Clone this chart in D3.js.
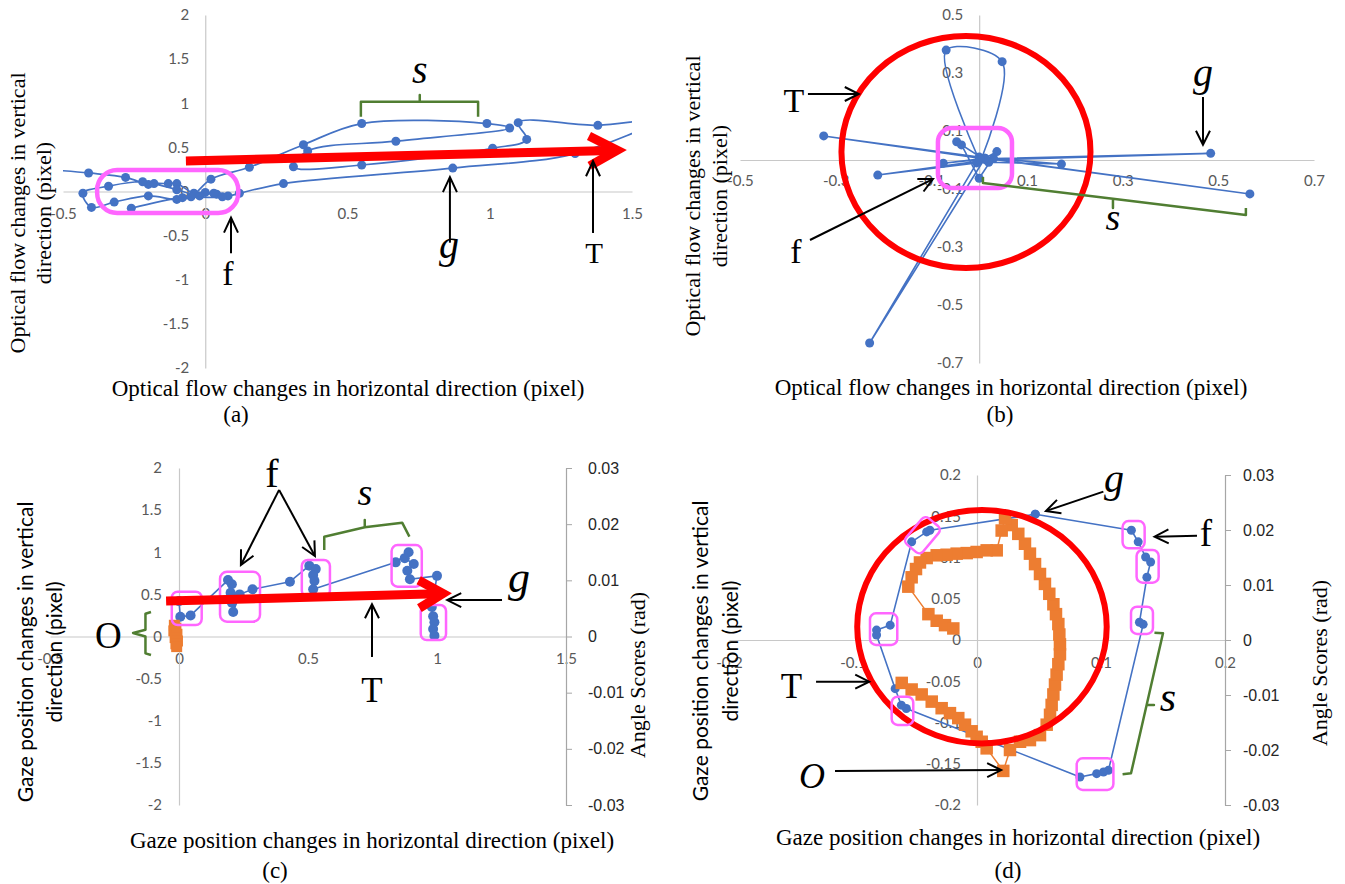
<!DOCTYPE html>
<html>
<head>
<meta charset="utf-8">
<script src="https://cdn.jsdelivr.net/npm/d3@7"></script>
<style>
  body { margin: 0; background: #fff; }
  svg { display: block; }
</style>
</head>
<body>
<svg id="fig" width="1345" height="884"></svg>
<script>
/* ---- tick labels ---- */
const aTicksX = [-0.5, 0, 0.5, 1, 1.5];
const aTicksY = [-2, -1.5, -1, -0.5, 0, 0.5, 1, 1.5, 2];
const bTicksX = [-0.5, -0.3, -0.1, 0.1, 0.3, 0.5, 0.7];
const bTicksY = [-0.7, -0.5, -0.3, -0.1, 0.1, 0.3, 0.5];
const cTicksX = [-0.5, 0, 0.5, 1, 1.5];
const cTicksY = [-2, -1.5, -1, -0.5, 0, 0.5, 1, 1.5, 2];
const cTicksAngle = [-0.03, -0.02, -0.01, 0, 0.01, 0.02, 0.03];
const dTicksX = [-0.2, -0.1, 0, 0.1, 0.2];
const dTicksY = [-0.2, -0.15, -0.1, -0.05, 0, 0.05, 0.1, 0.15, 0.2];
const dTicksAngle = [-0.03, -0.02, -0.01, 0, 0.01, 0.02, 0.03];

/* ---- series values ---- */
// (a) optical flow, smoothed trajectory
const flowA_x = [-0.56,-0.41,-0.28,-0.20,-0.18,-0.13,-0.10,-0.04,0.00,0.04,0.08,0.12,0.275,0.87,1.30,1.58,1.38,1.10,1.13,1.01,0.55,0.31,0.36,0.67,1.07,0.99,0.55,0.345,0.155,0.02,-0.05,-0.10,-0.20,-0.32,-0.40,-0.43,-0.34,-0.22,-0.10,-0.02,0.03,0.06,-0.08,-0.26];
const flowA_y = [0.25,0.21,0.16,0.08,0.09,0.09,0.09,-0.02,-0.01,-0.03,-0.05,-0.02,0.09,0.265,0.43,0.80,0.75,0.78,0.59,0.49,0.30,0.28,0.46,0.57,0.72,0.77,0.77,0.53,0.275,0.14,-0.06,-0.09,-0.05,-0.12,-0.18,-0.02,0.06,0.11,0.02,-0.05,-0.02,-0.06,-0.07,-0.19];

// (b) optical flow
const flowB_x = [0.00,-0.069,0.048,0.005,-0.325,0.00,0.566,0.012,-0.229,-0.005,-0.212,0.015,0.484,0.03,0.172,0.02,-0.047,-0.037,0.00,0.037,0.012,-0.075,0.002];
const flowB_y = [0.00,0.379,0.339,0.005,0.083,0.010,-0.117,0.006,-0.631,-0.010,-0.052,0.000,0.023,0.005,-0.014,-0.008,0.063,0.052,-0.063,0.029,0.006,-0.011,0.002];

// (c) gaze position + angle scores
const gazeC_x = [0.00,0.005,0.045,0.19,0.205,0.20,0.205,0.21,0.235,0.285,0.43,0.505,0.53,0.52,0.525,0.52,0.84,0.89,0.875,0.91,0.885,0.895,1.00,0.98,0.985,0.99,0.985,0.99];
const gazeC_y = [0.42,0.235,0.25,0.67,0.62,0.52,0.40,0.29,0.50,0.56,0.65,0.84,0.80,0.73,0.66,0.56,0.88,1.00,0.93,0.86,0.78,0.68,0.72,0.35,0.24,0.17,0.09,0.01];
const angleC_x = [-0.018,-0.012,-0.020,-0.008,-0.015,-0.006,-0.012,-0.009];
const angleC_y = [0.0020,0.0015,0.0010,0.0004,-0.0002,-0.0008,-0.0013,-0.0018];

// (d) gaze position + angle scores
const gazeD_x = [0.047,0.1245,0.13,0.136,0.14,0.137,0.131,0.134,0.106,0.102,0.0965,0.083,-0.057,-0.061,-0.066,-0.081,-0.081,-0.070,-0.0527,-0.0406,-0.038,0.047];
const gazeD_y = [0.1525,0.133,0.119,0.1006,0.0945,0.076,0.0215,0.019,-0.158,-0.160,-0.162,-0.166,-0.083,-0.079,-0.059,0.006,0.012,0.018,0.119,0.131,0.133,0.1525];
const angleD_x = [-0.0607,-0.0527,-0.0446,-0.0365,-0.0285,-0.0218,-0.0151,-0.0097,-0.0043,-0.0003,0.0038,0.0078,
  0.0212,
  0.0266,0.0347,0.0427,0.0508,0.0562,0.0589,0.0602,0.0616,0.0629,0.0642,0.0656,0.0669,0.0669,0.0664,0.0656,0.0637,0.0616,0.0583,0.0548,0.0508,0.0468,0.0427,0.0387,0.0333,0.0280,0.0226,
  0.0199,0.0159,0.0078,-0.0003,-0.0083,-0.0164,-0.0245,-0.0325,-0.0406,-0.0460,-0.0492,-0.0527,-0.0554,
  -0.0392,-0.0325,-0.0258,-0.0191];
const angleD_y = [-0.0078,-0.0090,-0.0099,-0.0112,-0.0124,-0.0133,-0.0142,-0.0154,-0.0166,-0.0176,-0.0185,-0.0197,
  -0.0238,
  -0.0200,-0.0185,-0.0182,-0.0173,-0.0154,-0.0136,-0.0118,-0.0099,-0.0081,-0.0063,-0.0044,-0.0026,-0.0008,0.0010,0.0029,0.0047,0.0065,0.0084,0.0102,0.0120,0.0138,0.0157,0.0175,0.0193,0.0209,0.0221,
  0.0199,0.0163,0.0163,0.0160,0.0158,0.0157,0.0155,0.0154,0.0149,0.0141,0.0129,0.0114,0.0097,
  0.0047,0.0035,0.0027,0.0021];

/* ---- styles ---- */
const BLUE = "#4472C4", ORANGE = "#ED7D31", RED = "#FF0000", PINK = "#FF66FF", GREEN = "#507E32";
const fontTick = "Lato, 'Open Sans', sans-serif";
const fontSerif = "'Liberation Serif', 'DejaVu Serif', serif";
const fmt = d => String(d);

const svg = d3.select("#fig");
const defs = svg.append("defs");

function makePanel(cfg) {
  const g = svg.append("g");
  const x = d3.scaleLinear().domain(d3.extent(cfg.xTicks)).range(cfg.xRange);
  const y = d3.scaleLinear().domain(d3.extent(cfg.yTicks)).range(cfg.yRange);
  const p = { g, x, y };

  const xa = g.append("g").attr("transform", `translate(0,${y(0)})`)
    .call(d3.axisBottom(x).tickValues(cfg.xTicks).tickSize(0).tickSizeOuter(0).tickPadding(cfg.xPad).tickFormat(fmt));
  const ya = g.append("g").attr("transform", `translate(${x(0)},0)`)
    .call(d3.axisLeft(y).tickValues(cfg.yTicks).tickSize(0).tickSizeOuter(0).tickPadding(cfg.yPad).tickFormat(fmt));
  [xa, ya].forEach(a => {
    a.select(".domain").attr("stroke", "#c8c8c8").attr("stroke-width", 1.2);
    a.selectAll(".tick text").attr("fill", "#595959").attr("font-size", 15).attr("font-family", fontTick);
  });

  if (cfg.y2Ticks) {
    p.y2 = d3.scaleLinear().domain(d3.extent(cfg.y2Ticks)).range(cfg.yRange);
    const ra = g.append("g").attr("transform", `translate(${x.range()[1]},0)`)
      .call(d3.axisRight(p.y2).tickValues(cfg.y2Ticks).tickSize(6).tickSizeOuter(0).tickPadding(cfg.rPad).tickFormat(fmt));
    ra.select(".domain").attr("stroke", "#a6a6a6").attr("stroke-width", 1.2);
    ra.selectAll(".tick line").attr("stroke", "#a6a6a6");
    ra.selectAll(".tick text").attr("fill", "#262626").attr("font-size", 16).attr("font-family", "'Liberation Sans', Arial, sans-serif");
  }

  if (cfg.clip) {
    defs.append("clipPath").attr("id", cfg.clip).append("rect")
      .attr("x", cfg.xRange[0]).attr("y", cfg.yRange[1])
      .attr("width", cfg.xRange[1] - cfg.xRange[0]).attr("height", cfg.yRange[0] - cfg.yRange[1]);
  }
  return p;
}

// parts: list of [startIndex, endIndex, curve] to mix smoothed and straight stretches
function drawSeries(p, xs, ys, o) {
  const yy = o.secondary ? p.y2 : p.y;
  const pts = xs.map((v, i) => [v, ys[i]]);
  const sg = p.g.append("g");
  if (o.clip) sg.attr("clip-path", `url(#${o.clip})`);
  const parts = o.parts || [[0, pts.length - 1, o.curve || d3.curveLinear]];
  parts.forEach(([s, e, curve]) => {
    sg.append("path").datum(pts.slice(s, e + 1))
      .attr("d", d3.line().x(d => p.x(d[0])).y(d => yy(d[1])).curve(curve))
      .attr("fill", "none").attr("stroke", o.color).attr("stroke-width", o.lw || 1.6)
      .attr("stroke-linejoin", "round");
  });
  if (o.square) {
    sg.selectAll("rect.m").data(pts).join("rect")
      .attr("x", d => p.x(d[0]) - o.square / 2).attr("y", d => yy(d[1]) - o.square / 2)
      .attr("width", o.square).attr("height", o.square).attr("fill", o.color);
  } else {
    sg.selectAll("circle.m").data(pts).join("circle")
      .attr("cx", d => p.x(d[0])).attr("cy", d => yy(d[1])).attr("r", o.r || 4.5).attr("fill", o.color);
  }
}

function label(p, str, dx, dy, size, italic) {
  const t = p.g.append("text").attr("x", p.x(dx)).attr("y", p.y(dy)).text(str)
    .attr("font-family", fontSerif).attr("font-size", size).attr("text-anchor", "middle").attr("fill", "#000");
  if (italic) t.attr("font-style", "italic");
}

function arrow(p, a, b, o) {
  const x1 = p.x(a[0]), y1 = p.y(a[1]), x2 = p.x(b[0]), y2 = p.y(b[1]);
  const color = o.color || "#000", w = o.width || 2, L = o.head || 14, W = o.half || 7;
  const ang = Math.atan2(y2 - y1, x2 - x1), c = Math.cos(ang), s = Math.sin(ang);
  const back = (w / 2) / Math.sin(Math.atan2(W, L));
  const tx = x2 - back * c, ty = y2 - back * s;
  p.g.append("line").attr("x1", x1).attr("y1", y1).attr("x2", tx - w * 0.6 * c).attr("y2", ty - w * 0.6 * s)
    .attr("stroke", color).attr("stroke-width", w);
  const bx = tx - L * c, by = ty - L * s, px = -s * W, py = c * W;
  p.g.append("path").attr("d", `M${bx + px},${by + py}L${tx},${ty}L${bx - px},${by - py}`)
    .attr("fill", "none").attr("stroke", color).attr("stroke-width", w)
    .attr("stroke-linejoin", "miter").attr("stroke-miterlimit", 12);
}

function brace(p, pts) {
  p.g.append("path").datum(pts)
    .attr("d", d3.line().x(d => p.x(d[0])).y(d => p.y(d[1])))
    .attr("fill", "none").attr("stroke", GREEN).attr("stroke-width", 2.5).attr("stroke-linejoin", "round");
}

function box(p, x0, x1, y0, y1, rx, w) {
  const X0 = p.x(x0), X1 = p.x(x1), Y0 = p.y(y0), Y1 = p.y(y1);
  p.g.append("rect").attr("x", Math.min(X0, X1)).attr("y", Math.min(Y0, Y1))
    .attr("width", Math.abs(X1 - X0)).attr("height", Math.abs(Y1 - Y0)).attr("rx", rx)
    .attr("fill", "none").attr("stroke", PINK).attr("stroke-width", w);
}

function ring(p, cx, cy, rx, ry) {
  p.g.append("ellipse").attr("cx", p.x(cx)).attr("cy", p.y(cy))
    .attr("rx", p.x(cx + rx) - p.x(cx)).attr("ry", p.y(cy) - p.y(cy + ry))
    .attr("fill", "none").attr("stroke", RED).attr("stroke-width", 6);
}

function title(str, x, y, o) {
  const t = svg.append("text").attr("x", x).attr("y", y).text(str)
    .attr("font-family", o.family || fontSerif).attr("font-size", o.size || 23)
    .attr("text-anchor", "middle").attr("fill", "#000");
  if (o.rotate) t.attr("transform", `rotate(-90,${x},${y})`).attr("dominant-baseline", "middle");
}

/* ================= (a) ================= */
const A = makePanel({ xTicks: aTicksX, yTicks: aTicksY, xRange: [63, 632], yRange: [368, 15], xPad: 17, yPad: 16, clip: "clipA" });
drawSeries(A, flowA_x, flowA_y, { color: BLUE, curve: d3.curveCatmullRom.alpha(0.5), clip: "clipA", r: 4.5, lw: 1.7 });
box(A, -0.38, 0.116, 0.244, -0.244, 20, 4.5);
arrow(A, [-0.068, 0.346], [1.482, 0.47], { color: RED, width: 9, head: 28, half: 15 });
brace(A, [[0.547, 0.848], [0.547, 1.018], [0.754, 1.018], [0.754, 1.093], [0.754, 1.018], [0.959, 1.018], [0.959, 0.848]]);
label(A, "s", 0.754, 1.229, 40, true);
arrow(A, [0.86, -0.58], [0.86, 0.19], { head: 15, half: 7 });
label(A, "g", 0.857, -0.754, 40, true);
arrow(A, [1.363, -0.47], [1.363, 0.37], { head: 15, half: 7 });
label(A, "T", 1.367, -0.81, 29);
arrow(A, [0.0905, -0.70], [0.0905, -0.27], { head: 15, half: 7 });
label(A, "f", 0.08, -1.06, 34);
title("Optical flow changes in horizontal direction (pixel)", 348, 396, {});
title("Optical flow changes in vertical", 20, 213, { rotate: true, size: 22 });
title("direction (pixel)", 46, 213, { rotate: true, size: 22 });
title("(a)", 236, 422, {});

/* ================= (b) ================= */
const B = makePanel({ xTicks: bTicksX, yTicks: bTicksY, xRange: [740, 1314], yRange: [363, 15], xPad: 15, yPad: 16 });
drawSeries(B, flowB_x, flowB_y, { color: BLUE, r: 4.5, lw: 1.6,
  parts: [[0, 3, d3.curveCatmullRom.alpha(0.5)], [3, flowB_x.length - 1, d3.curveLinear]] });
ring(B, -0.0276, 0.0276, 0.2603, 0.4);
box(B, -0.0862, 0.0686, 0.1103, -0.0966, 14, 4.5);
arrow(B, [-0.358, 0.2276], [-0.247, 0.2276], { head: 14, half: 7 });
label(B, "T", -0.3872, 0.1655, 34);
arrow(B, [0.4679, 0.2172], [0.4679, 0.0448], { head: 14, half: 7 });
label(B, "g", 0.4679, 0.255, 40, true);
arrow(B, [-0.3537, -0.2759], [-0.0924, -0.0621], { head: 14, half: 7 });
label(B, "f", -0.383, -0.355, 34);
brace(B, [[0.0079, -0.0586], [0.0079, -0.0793], [0.2797, -0.1338], [0.2797, -0.1655], [0.2797, -0.1338], [0.5576, -0.1897], [0.5576, -0.1655]]);
label(B, "s", 0.2797, -0.2414, 38, true);
title("Optical flow changes in horizontal direction (pixel)", 1011, 395, {});
title("Optical flow changes in vertical", 695, 196, { rotate: true, size: 22 });
title("direction (pixel)", 722, 196, { rotate: true, size: 22 });
title("(b)", 1000, 422, {});

/* ================= (c) ================= */
const C = makePanel({ xTicks: cTicksX, yTicks: cTicksY, y2Ticks: cTicksAngle, xRange: [50, 566], yRange: [805, 468], xPad: 17, yPad: 17, rPad: 16 });
drawSeries(C, gazeC_x, gazeC_y, { color: BLUE, r: 5, lw: 1.6 });
drawSeries(C, angleC_x, angleC_y, { color: ORANGE, secondary: true, square: 11, lw: 1.5 });
box(C, -0.028, 0.088, 0.532, 0.136, 6, 2.5);
box(C, 0.159, 0.314, 0.769, 0.176, 7, 2.5);
box(C, 0.476, 0.585, 0.908, 0.472, 6, 2.5);
box(C, 0.824, 0.941, 1.086, 0.591, 6, 2.5);
box(C, 0.937, 1.035, 0.374, -0.042, 6, 2.5);
arrow(C, [-0.05, 0.42], [1.058, 0.513], { color: RED, width: 9, head: 24, half: 14 });
label(C, "f", 0.36, 1.775, 40);
arrow(C, [0.388, 1.74], [0.236, 0.825], { head: 14, half: 7 });
arrow(C, [0.388, 1.74], [0.531, 0.932], { head: 14, half: 7 });
brace(C, [[0.563, 1.027], [0.563, 1.185], [0.72, 1.296], [0.72, 1.383], [0.72, 1.296], [0.865, 1.351], [0.893, 1.185]]);
label(C, "s", 0.721, 1.561, 38, true);
arrow(C, [1.252, 0.433], [1.031, 0.433], { head: 14, half: 7 });
label(C, "g", 1.318, 0.528, 44, true);
arrow(C, [0.748, -0.243], [0.748, 0.41], { head: 14, half: 7 });
label(C, "T", 0.748, -0.777, 35);
brace(C, [[-0.1085, 0.291], [-0.13, 0.27], [-0.13, 0.08], [-0.178, 0.042], [-0.13, 0.0], [-0.13, -0.20], [-0.1085, -0.22]]);
label(C, "O", -0.274, -0.137, 37);
title("Gaze position changes in horizontal direction (pixel)", 372, 848, {});
title("Gaze position changes in vertical", 28, 652, { rotate: true, family: fontTick, size: 21 });
title("direction (pixel)", 57, 652, { rotate: true, family: fontTick, size: 21 });
title("Angle Scores (rad)", 640, 675, { rotate: true, size: 22 });
title("(c)", 275, 878, {});

/* ================= (d) ================= */
const D = makePanel({ xTicks: dTicksX, yTicks: dTicksY, y2Ticks: dTicksAngle, xRange: [729, 1225], yRange: [805, 475], xPad: 17, yPad: 16, rPad: 12 });
drawSeries(D, gazeD_x, gazeD_y, { color: BLUE, r: 4.5, lw: 1.6 });
drawSeries(D, angleD_x, angleD_y, { color: ORANGE, secondary: true, square: 12.5, lw: 1.5 });
ring(D, 0.004, 0.0161, 0.1006, 0.1415);
box(D, -0.0863, -0.0643, 0.0324, -0.006, 6, 2.5);
box(D, -0.0688, -0.0514, -0.0687, -0.103, 6, 2.5);
box(D, 0.0804, 0.11, -0.1434, -0.1818, 6, 2.5);
box(D, 0.1174, 0.1352, 0.1442, 0.1111, 6, 2.5);
box(D, 0.1287, 0.1465, 0.1091, 0.0695, 6, 2.5);
box(D, 0.1242, 0.1419, 0.0404, 0.0073, 6, 2.5);
D.g.append("rect").attr("x", -17).attr("y", -11).attr("width", 34).attr("height", 22).attr("rx", 5)
  .attr("transform", `translate(${D.x(-0.044)},${D.y(0.127)}) rotate(-50)`)
  .attr("fill", "none").attr("stroke", PINK).attr("stroke-width", 2.5);
arrow(D, [0.1019, 0.1798], [0.0539, 0.1555], { head: 14, half: 7 });
label(D, "g", 0.1105, 0.179, 40, true);
arrow(D, [0.1774, 0.1264], [0.1414, 0.1252], { head: 14, half: 7 });
label(D, "f", 0.1847, 0.1139, 37);
brace(D, [[0.1431, 0.0088], [0.15, 0.0081], [0.1368, -0.0788], [0.1427, -0.0788], [0.1368, -0.0788], [0.1242, -0.1616], [0.1174, -0.1628]]);
label(D, "s", 0.154, -0.086, 42, true);
arrow(D, [-0.1298, -0.0505], [-0.0851, -0.0505], { head: 14, half: 7 });
label(D, "T", -0.1496, -0.0703, 35);
arrow(D, [-0.1145, -0.1588], [0.0213, -0.1576], { head: 14, half: 7 });
label(D, "O", -0.133, -0.179, 36, true);
title("Gaze position changes in horizontal direction (pixel)", 1018, 845, {});
title("Gaze position changes in vertical", 703, 651, { rotate: true, family: fontTick, size: 21 });
title("direction (pixel)", 733, 651, { rotate: true, family: fontTick, size: 21 });
title("Angle Scores (rad)", 1322, 663, { rotate: true, size: 22 });
title("(d)", 1008, 878, {});
</script>
</body>
</html>
